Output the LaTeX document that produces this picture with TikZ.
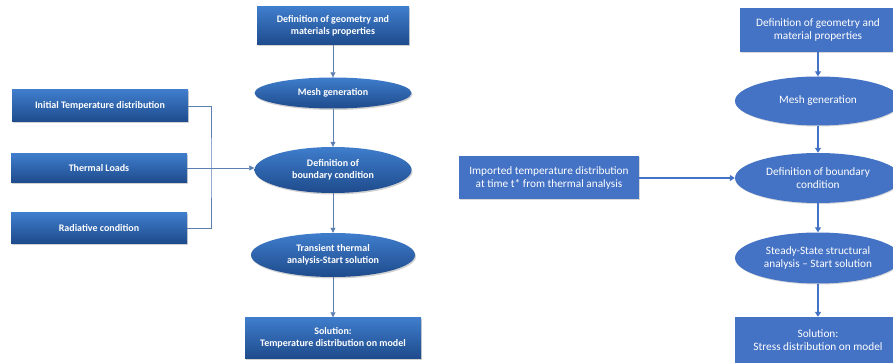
\documentclass[tikz,border=0pt]{standalone}
\usepackage{fontspec}
\setmainfont{Carlito}
\usepackage{xcolor}
\usepackage{tikz}
\usetikzlibrary{shapes.geometric}
\usetikzlibrary{arrows.meta}
\usetikzlibrary{shadows}
\definecolor{oldtop}{HTML}{3F7DCC}
\definecolor{oldbot}{HTML}{1E4B8C}
\definecolor{oldline}{HTML}{5C7EB0}
\definecolor{newblue}{HTML}{4472C4}

\begin{document}
\begin{tikzpicture}[x=1pt, y=-1pt,
	oldshape/.style={top color=oldtop, bottom color=oldbot, draw=none, text=white,
		font=\fontsize{10}{12.5}\selectfont\bfseries, align=center, inner sep=0pt,
		drop shadow={shadow xshift=1pt, shadow yshift=-1.5pt, opacity=0.35}},
	oldbox/.style={oldshape, rectangle},
	oldell/.style={oldshape, ellipse},
	newshape/.style={fill=newblue, draw=none, text=white,
		font=\fontsize{11.3}{13.5}\selectfont, align=center, inner sep=0pt,
		drop shadow={shadow xshift=0.8pt, shadow yshift=-1pt, opacity=0.3}},
	newbox/.style={newshape, rectangle},
	newell/.style={newshape, ellipse},
	oldarrow/.style={draw=oldline, line width=0.6pt, -{Triangle[length=5pt, width=5pt]}},
	oldlink/.style={draw=oldline, line width=0.6pt},
	newarrow/.style={draw=newblue, line width=1.8pt, -{Triangle[length=5pt, width=6pt]}}]
	\useasboundingbox (0,0) rectangle (893,363);
	\fill[white] (0,0) rectangle (893,363);
	% Nodes, thermal analysis
	\node[oldbox, minimum width=152pt, minimum height=38pt] (geomL) at (333,26) {Definition of geometry and\\materials properties};
	\node[oldell, minimum width=157pt, minimum height=31pt] (meshL) at (333,93) {Mesh generation};
	\node[oldell, minimum width=157pt, minimum height=46pt] (bcL) at (333,170) {Definition of\\boundary condition};
	\node[oldell, minimum width=164pt, minimum height=44pt] (transL) at (333,255) {Transient thermal\\analysis-Start solution};
	\node[oldbox, minimum width=176pt, minimum height=41pt] (solL) at (333,338) {Solution:\\Temperature distribution on model};
	\node[oldbox, minimum width=176pt, minimum height=32pt] (initT) at (100,106) {Initial Temperature distribution};
	\node[oldbox, minimum width=176pt, minimum height=29pt] (loadsT) at (99,168) {Thermal Loads};
	\node[oldbox, minimum width=176pt, minimum height=30pt] (radT) at (99,228) {Radiative condition};
	\coordinate (jn) at (211,168);
	% Edges, thermal analysis
	\draw[oldarrow] (geomL) -- (meshL);
	\draw[oldarrow] (meshL) -- (bcL);
	\draw[oldarrow] (bcL) -- (transL);
	\draw[oldarrow] (transL) -- (solL);
	\draw[oldlink] (initT.east) -| (jn) |- (radT.east);
	\draw[oldarrow] (loadsT.east) -- (loadsT.east -| bcL.west);
	% Nodes, structural analysis
	\node[newbox, minimum width=156pt, minimum height=44pt] (geomR) at (818,30) {Definition of geometry and\\material properties};
	\node[newell, minimum width=166pt, minimum height=49pt] (meshR) at (818,101) {Mesh generation};
	\node[newell, minimum width=166pt, minimum height=50pt] (bcR) at (818,178) {Definition of boundary\\condition};
	\node[newell, minimum width=166pt, minimum height=51pt] (steadyR) at (818,258) {Steady-State structural\\analysis -- Start solution};
	\node[newbox, minimum width=166pt, minimum height=46pt] (solR) at (818,340) {Solution:\\Stress distribution on model};
	\node[newbox, minimum width=180pt, minimum height=43pt] (impR) at (549,178) {Imported temperature distribution\\at time t* from thermal analysis};
	% Edges, structural analysis
	\draw[newarrow] (geomR) -- (meshR);
	\draw[newarrow] (meshR) -- (bcR);
	\draw[newarrow] (bcR) -- (steadyR);
	\draw[newarrow] (steadyR) -- (solR);
	\draw[newarrow] (impR) -- (bcR);
\end{tikzpicture}
\end{document}
